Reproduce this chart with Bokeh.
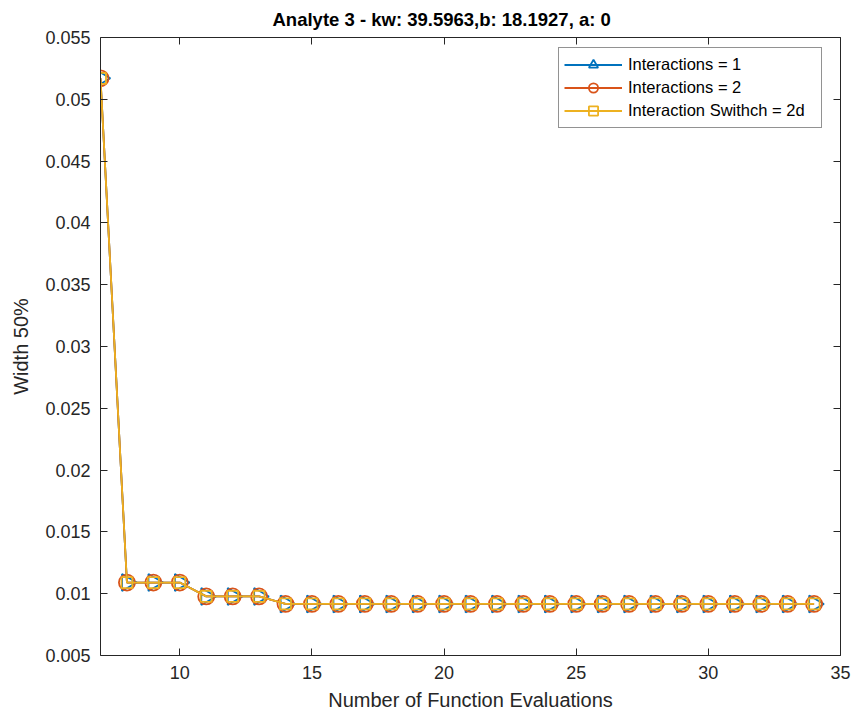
import numpy as np
from bokeh.plotting import figure
from bokeh.models import LinearAxis, FixedTicker, Range1d, Legend, ColumnDataSource
from bokeh.embed import file_html
from bokeh.resources import INLINE

evals = list(range(7, 35))
width_1 = [0.0517, 0.0109, 0.0109, 0.0109, 0.00978, 0.00978, 0.00978] + [0.00917] * 21
width_2 = [0.0517, 0.0109, 0.0109, 0.0109, 0.00978, 0.00978, 0.00978] + [0.00917] * 21
width_sw = [0.0517, 0.0109, 0.0109, 0.0109, 0.00978, 0.00978, 0.00978] + [0.00917] * 21

x_ticks = [10, 15, 20, 25, 30, 35]
y_ticks = [0.005, 0.01, 0.015, 0.02, 0.025, 0.03, 0.035, 0.04, 0.045, 0.05, 0.055]
y_tick_labels = ["0.005", "0.01", "0.015", "0.02", "0.025", "0.03", "0.035", "0.04", "0.045", "0.05", "0.055"]

FONT = "Liberation Sans"
DARK = "#262626"
BLUE = "#0072BD"
RED = "#D95319"
YEL = "#EDB120"

p = figure(width=856, height=717, output_backend="svg", toolbar_location=None,
           x_range=Range1d(7, 35), y_range=Range1d(0.005, 0.055),
           min_border_left=100, min_border_right=16, min_border_top=37, min_border_bottom=62,
           title="Analyte 3 - kw: 39.5963,b: 18.1927, a: 0")
p.title.text_font = FONT
p.title.text_font_size = "18.5px"
p.title.text_font_style = "bold"
p.title.align = "left"
p.title.offset = 172
p.title.standoff = 12
p.title.vertical_align = "top"
p.title.text_color = "#000000"
p.grid.visible = False
p.outline_line_color = None

def style_axis(ax, show_labels=True):
    ax.axis_line_color = DARK
    ax.major_tick_line_color = DARK
    ax.major_tick_in = 7
    ax.major_tick_out = 0
    ax.minor_tick_line_color = None
    ax.major_label_text_font = FONT
    ax.major_label_text_font_size = "18px"
    ax.major_label_text_color = DARK
    ax.axis_label_text_font = FONT
    ax.axis_label_text_font_size = "20px"
    ax.axis_label_text_font_style = "normal"
    ax.axis_label_text_color = DARK
    if not show_labels:
        ax.major_label_text_alpha = 0

p.xaxis.ticker = FixedTicker(ticks=x_ticks)
p.yaxis.ticker = FixedTicker(ticks=y_ticks)
p.yaxis.major_label_overrides = {t: l for t, l in zip(y_ticks, y_tick_labels)}
p.xaxis.axis_label = "Number of Function Evaluations"
p.yaxis.axis_label = "Width 50%"
style_axis(p.xaxis[0])
style_axis(p.yaxis[0])
p.xaxis.major_label_standoff = 10
p.yaxis.major_label_standoff = 10
p.xaxis.axis_label_standoff = 7
p.yaxis.axis_label_standoff = 10

top = LinearAxis(ticker=FixedTicker(ticks=x_ticks))
right = LinearAxis(ticker=FixedTicker(ticks=y_ticks))
style_axis(top, False)
style_axis(right, False)
top.major_label_text_font_size = "1px"
right.major_label_text_font_size = "1px"
top.major_label_standoff = 0
right.major_label_standoff = 0
p.add_layout(top, "above")
p.add_layout(right, "right")

src = ColumnDataSource(dict(x=evals, y1=width_1, y2=width_2, y3=width_sw,
                            ang=[-np.pi / 2] * len(evals)))

l1 = p.line("x", "y1", source=src, line_color=BLUE, line_width=1.8)
s1 = p.scatter("x", "y1", source=src, marker="triangle", angle="ang", size=17,
               line_color=BLUE, fill_color=None, line_width=1.8)
l2 = p.line("x", "y2", source=src, line_color=RED, line_width=1.8)
s2 = p.scatter("x", "y2", source=src, marker="circle", size=16,
               line_color=RED, fill_color=None, line_width=1.8)
l3 = p.line("x", "y3", source=src, line_color=YEL, line_width=1.8)
s3 = p.scatter("x", "y3", source=src, marker="square", size=11,
               line_color=YEL, fill_color=None, line_width=1.8)

legend = Legend(items=[("Interactions = 1", [l1, s1]),
                       ("Interactions = 2", [l2, s2]),
                       ("Interaction Swithch = 2d", [l3, s3])],
                location=(458, 527))
legend.label_text_font = FONT
legend.label_text_font_size = "16.5px"
legend.label_text_color = "#000000"
legend.border_line_color = DARK
legend.border_line_width = 1
legend.glyph_width = 58
legend.glyph_height = 23
legend.label_height = 23
legend.label_width = 188
legend.label_standoff = 6
legend.spacing = 0
legend.padding = 5
legend.margin = 0
legend.background_fill_alpha = 1
p.add_layout(legend, "center")

open("out.html", "w").write(file_html(p, INLINE))
